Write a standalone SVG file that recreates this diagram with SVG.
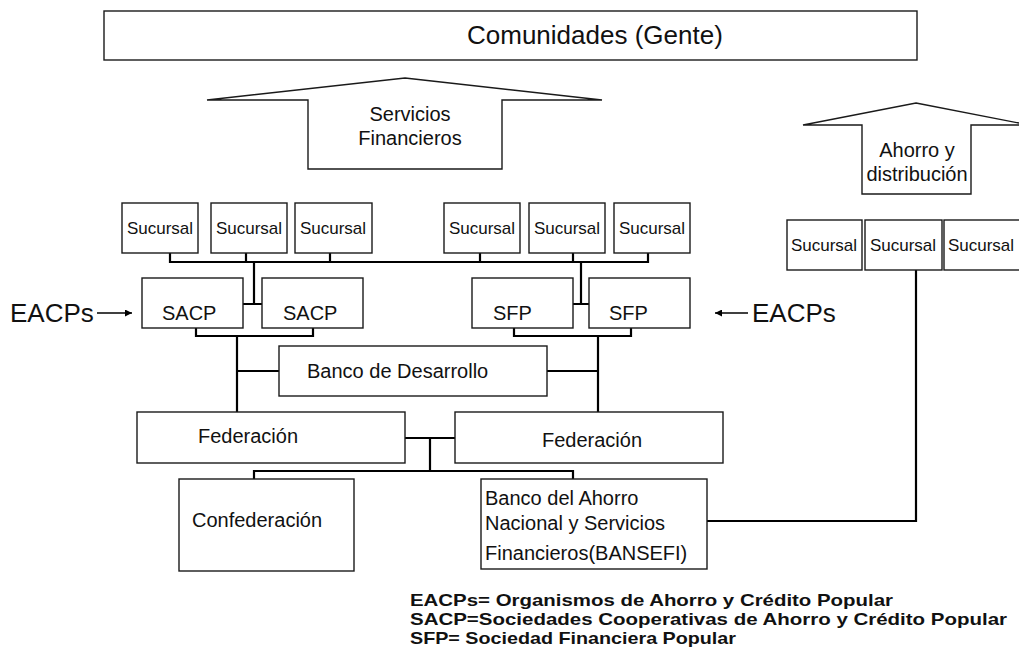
<svg xmlns="http://www.w3.org/2000/svg" width="1019" height="657" viewBox="0 0 1019 657">
<defs>
<style>
.box{fill:#fff;stroke:#1a1a1a;stroke-width:1.4}
.t{font-family:"Liberation Sans",Arial,sans-serif;font-size:20px;fill:#111}
.s{font-family:"Liberation Sans",Arial,sans-serif;font-size:17px;fill:#111;text-anchor:middle}
.c{fill:none;stroke:#000;stroke-width:2.2}
.big{font-family:"Liberation Sans",Arial,sans-serif;font-size:26px;fill:#111}
.leg{font-family:"Liberation Sans",Arial,sans-serif;font-size:17px;font-weight:bold;fill:#111}
</style>
<marker id="ah" viewBox="0 0 10 10" refX="10" refY="5" markerWidth="8" markerHeight="7" markerUnits="userSpaceOnUse" orient="auto">
<path d="M0,0 L10,5 L0,10 z" fill="#000"/>
</marker>
</defs>
<rect width="1019" height="657" fill="#fff"/>

<g id="connectors">
<path class="c" d="M170,253 V262 H648 V253 M246,253 V262 M330,253 V262 M480,253 V262 M573,253 V262"/>
<path class="c" d="M254,262 V304 M243,304 H262"/>
<path class="c" d="M581,262 V304 M573,304 H589"/>
<path class="c" d="M196,328 V336 H313 V328 M237,336 V412 M237,371 H279"/>
<path class="c" d="M514,328 V336 H631 V328 M598,336 V412 M547,371 H598"/>
<path class="c" d="M405,438 H455 M430,438 V471 M254,479 V471 H573 V479"/>
<path class="c" d="M707,521 H916 V270"/>
<line x1="97" y1="313" x2="132" y2="313" stroke="#000" stroke-width="1.6" marker-end="url(#ah)"/>
<line x1="748" y1="313" x2="715" y2="313" stroke="#000" stroke-width="1.6" marker-end="url(#ah)"/>
</g>

<g id="comunidades">
<rect class="box" x="104" y="11" width="813" height="49"/>
<text class="big" x="467" y="44">Comunidades (Gente)</text>
</g>

<g id="servicios-arrow">
<path class="box" d="M405,78 L602,100 H502 V169 H308 V100 H207 Z"/>
<text class="t" x="410" y="121" text-anchor="middle">Servicios</text>
<text class="t" x="410" y="145" text-anchor="middle">Financieros</text>
</g>

<g id="ahorro-arrow">
<path class="box" d="M916,103 L1029,125 H971 V194 H862 V125 H803 Z"/>
<text class="t" x="917" y="157" text-anchor="middle">Ahorro y</text>
<text class="t" x="917" y="181" text-anchor="middle">distribución</text>
</g>

<g id="sucursal-1"><rect class="box" x="122" y="203" width="76" height="50"/><text class="s" x="160" y="234">Sucursal</text></g>
<g id="sucursal-2"><rect class="box" x="211" y="203" width="76" height="50"/><text class="s" x="249" y="234">Sucursal</text></g>
<g id="sucursal-3"><rect class="box" x="295" y="203" width="77" height="50"/><text class="s" x="333" y="234">Sucursal</text></g>
<g id="sucursal-4"><rect class="box" x="444" y="203" width="76" height="50"/><text class="s" x="482" y="234">Sucursal</text></g>
<g id="sucursal-5"><rect class="box" x="529" y="203" width="76" height="50"/><text class="s" x="567" y="234">Sucursal</text></g>
<g id="sucursal-6"><rect class="box" x="614" y="203" width="76" height="50"/><text class="s" x="652" y="234">Sucursal</text></g>
<g id="sucursal-7"><rect class="box" x="787" y="220" width="75" height="50"/><text class="s" x="824" y="251">Sucursal</text></g>
<g id="sucursal-8"><rect class="box" x="865" y="220" width="77" height="50"/><text class="s" x="903" y="251">Sucursal</text></g>
<g id="sucursal-9"><rect class="box" x="944" y="220" width="80" height="50"/><text class="s" x="981" y="251">Sucursal</text></g>

<g id="sacp-1"><rect class="box" x="142" y="278" width="101" height="50"/><text class="t" x="162" y="320">SACP</text></g>
<g id="sacp-2"><rect class="box" x="262" y="278" width="101" height="50"/><text class="t" x="283" y="320">SACP</text></g>
<g id="sfp-1"><rect class="box" x="472" y="278" width="101" height="50"/><text class="t" x="493" y="320">SFP</text></g>
<g id="sfp-2"><rect class="box" x="589" y="278" width="101" height="50"/><text class="t" x="609" y="320">SFP</text></g>

<g id="eacps-left"><text class="big" x="10" y="322">EACPs</text></g>
<g id="eacps-right"><text class="big" x="752" y="322">EACPs</text></g>

<g id="banco-desarrollo"><rect class="box" x="279" y="346" width="268" height="50"/><text class="t" x="307" y="378">Banco de Desarrollo</text></g>

<g id="federacion-1"><rect class="box" x="137" y="412" width="268" height="51"/><text class="t" x="198" y="443">Federación</text></g>
<g id="federacion-2"><rect class="box" x="455" y="412" width="268" height="51"/><text class="t" x="542" y="447">Federación</text></g>

<g id="confederacion"><rect class="box" x="179" y="479" width="175" height="92"/><text class="t" x="192" y="527">Confederación</text></g>

<g id="bansefi"><rect class="box" x="481" y="479" width="226" height="90"/>
<text class="t" x="485" y="505">Banco del Ahorro</text>
<text class="t" x="485" y="530">Nacional y Servicios</text>
<text class="t" x="485" y="560">Financieros(BANSEFI)</text>
</g>

<g id="legend">
<text class="leg" x="410" y="606" textLength="483" lengthAdjust="spacingAndGlyphs">EACPs= Organismos de Ahorro y Crédito Popular</text>
<text class="leg" x="410" y="625" textLength="597" lengthAdjust="spacingAndGlyphs">SACP=Sociedades Cooperativas de Ahorro y Crédito Popular</text>
<text class="leg" x="410" y="644" textLength="326" lengthAdjust="spacingAndGlyphs">SFP= Sociedad Financiera Popular</text>
</g>
</svg>
